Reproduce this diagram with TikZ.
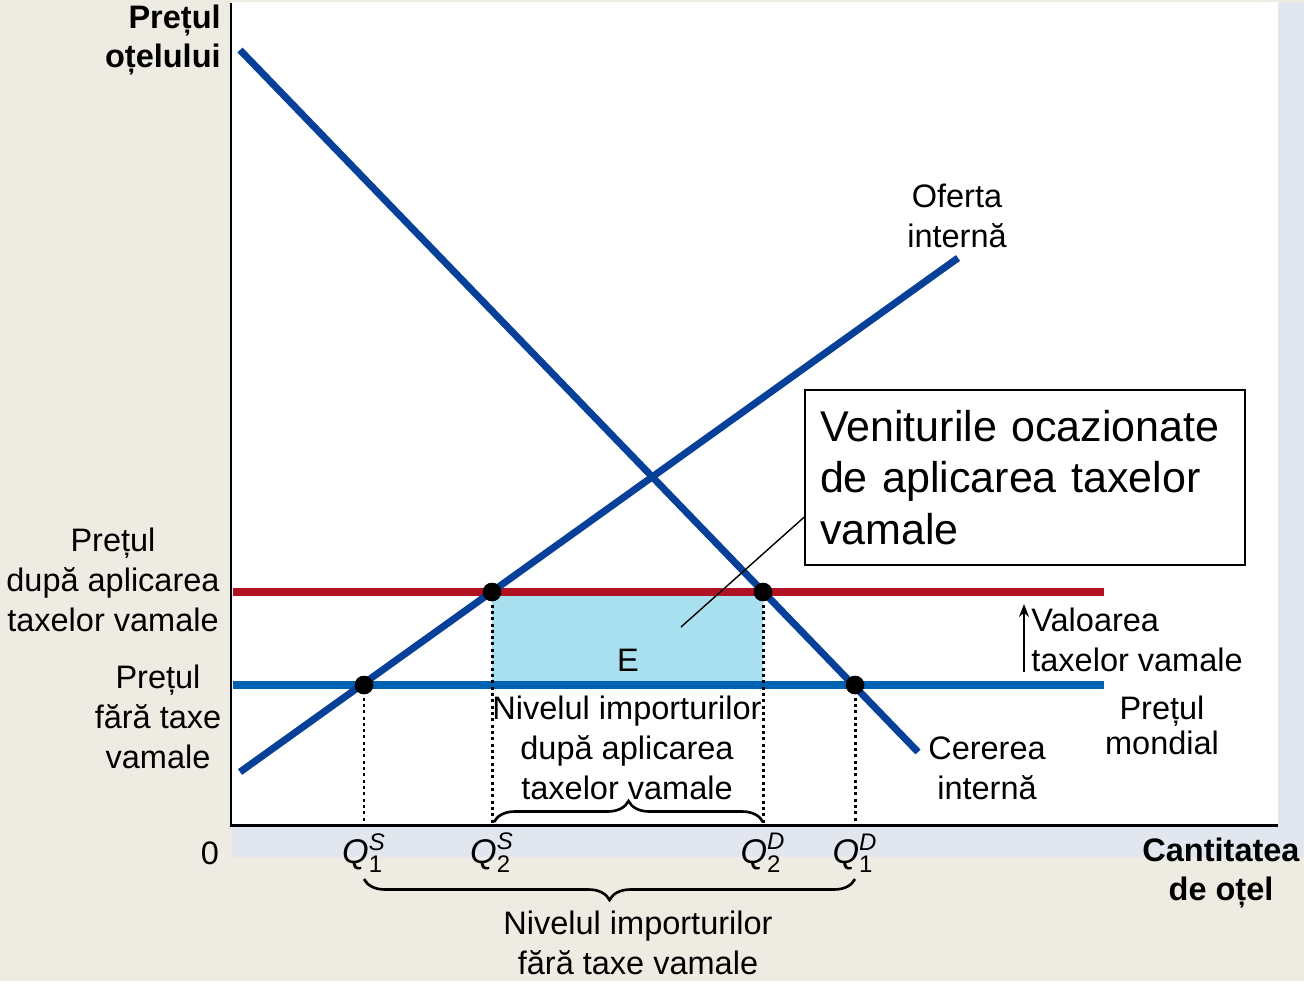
\documentclass[tikz,border=0pt]{standalone}
\usepackage{fontspec}
\usepackage{amsmath}
\setmainfont{Liberation Sans}
\usetikzlibrary{decorations.pathreplacing,arrows.meta}

\definecolor{bgbeige}{RGB}{238,235,227}
\definecolor{shadowgray}{RGB}{226,231,239}
\definecolor{curveblue}{RGB}{6,64,152}
\definecolor{worldblue}{RGB}{0,98,178}
\definecolor{tariffred}{RGB}{176,18,36}
\definecolor{revenuefill}{RGB}{168,224,240}

\tikzset{
  lbl/.style={font=\fontsize{18.5}{22.7}\selectfont, align=center, inner sep=0pt},
  boldlbl/.style={lbl, font=\fontsize{18.5}{22.7}\selectfont\bfseries},
  qlbl/.style={lbl, anchor=center, font=\fontsize{19.5}{22.7}\selectfont},
  bracestyle/.style={line width=1.5pt, decorate, decoration={brace, amplitude=0.42cm}}
}

\newcommand{\qmark}[2]{\textit{Q}$^{\textit{#2}}_{\textup{#1}}$}

\begin{document}
\begin{tikzpicture}[x=0.02cm, y=-0.02cm]

\fill [bgbeige] (0,0) rectangle (1304,981);
\useasboundingbox (0,0) rectangle (1304,981);
\fill [shadowgray] (232,2) rectangle (1304,857);
\fill [white] (232,2) rectangle (1278,825);

\coordinate (origin) at (231,825);
\coordinate (ytop) at (231,3);
\coordinate (xend) at (1278,825);

\fill [revenuefill] (492,592) rectangle (763,685);

\begin{scope}[line width=4.5pt]
\draw [tariffred] (233,592) -- (1104,592);
\draw [worldblue] (233,685) -- (1104,685);
\end{scope}

\begin{scope}[line width=4pt, curveblue]
\draw (240,50) -- (918,752);
\draw (240,772) -- (958,258);
\end{scope}

\filldraw [fill=black]  (364,685) circle (0.18cm) node (qs1) {};
\filldraw [fill=black]  (492,592) circle (0.18cm) node (qs2) {};
\filldraw [fill=black]  (763,592) circle (0.18cm) node (qd2) {};
\filldraw [fill=black]  (855,685) circle (0.18cm) node (qd1) {};

\begin{scope}[line width=1.7pt, dash pattern=on 1.7pt off 1.9pt]
\draw (qs1) -- (qs1 |- origin);
\draw (qs2) -- (qs2 |- origin);
\draw (qd2) -- (qd2 |- origin);
\draw (qd1) -- (qd1 |- origin);
\end{scope}

\draw [line width=1.7pt] (ytop) -- (origin) -- (xend);

\draw [bracestyle] (494,822) -- (763,822);
\draw [bracestyle] (855,879) -- (364,879);

\node [lbl] (lettere) at (628,660) {E};

\node [draw, fill=white, line width=0.8pt, inner xsep=0.3cm, inner ysep=0pt,
       text width=8.2cm, minimum height=3.5cm, align=left,
       font=\fontsize{24.5}{29.5}\selectfont] (revbox) at (1025,477.5)
  {Veniturile ocazionate\\de aplicarea taxelor\\vamale};
\coordinate (ptrend) at (681,627);
\draw [line width=0.8pt] ([yshift=-0.79cm]revbox.west) -- (ptrend);

\coordinate (tarifflow) at (1024,672);
\coordinate (tariffhigh) at (1024,604);
\draw [line width=1pt, -{Stealth[length=2.6mm, width=2mm]}] (tarifflow) -- (tariffhigh);

\node [boldlbl, anchor=east, align=right] (ylabel) at (221,40) {Prețul\\oțelului};
\node [boldlbl] (xlabel) at (1221,873) {Cantitatea\\de oțel};
\node [lbl] (zero) at (210,853) {0};

\node [lbl] (ptax) at (113,580) {Prețul\\după aplicarea\\taxelor vamale};
\node [lbl] (pfree) at (158,717) {Prețul\\fără taxe\\vamale};

\node [lbl] (supplylbl) at (957,216) {Oferta\\internă};
\node [lbl] (demandlbl) at (987,768) {Cererea\\internă};
\node [lbl, font=\fontsize{18.5}{20}\selectfont] (worldlbl) at (1162,725) {Prețul\\mondial};
\node [lbl, anchor=west, align=left] (tarifflbl) at (1031,640) {Valoarea\\taxelor vamale};

\node [lbl] (imp2lbl) at (627,748) {Nivelul importurilor\\după aplicarea\\taxelor vamale};
\node [lbl] (imp1lbl) at (638,943) {Nivelul importurilor\\fără taxe vamale};

\node [qlbl] at (qs1 |- 0,853) {\qmark{1}{S}};
\node [qlbl] at (qs2 |- 0,853) {\qmark{2}{S}};
\node [qlbl] at (qd2 |- 0,853) {\qmark{2}{D}};
\node [qlbl] at (qd1 |- 0,853) {\qmark{1}{D}};

\end{tikzpicture}
\end{document}
